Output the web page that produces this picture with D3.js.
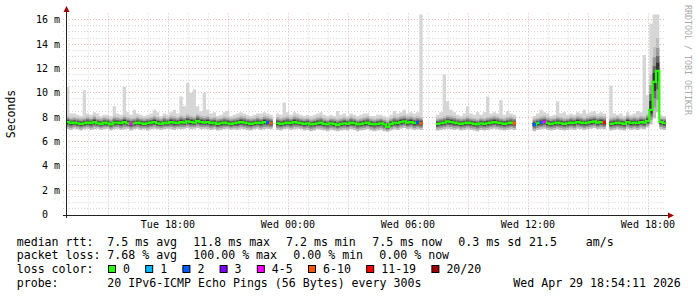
<!DOCTYPE html>
<html>
<head>
<meta charset="utf-8">
<script src="https://cdn.jsdelivr.net/npm/d3@7"></script>
<style>
body { margin: 0; background: #fff; }
text { font-family: "DejaVu Sans Mono", monospace; white-space: pre; }
</style>
</head>
<body>
<div id="chart"></div>
<script>
var w = 697;
var h = 297;

// time range of the graph, one value every 10 minutes
var startTime = new Date(2026, 3, 28, 12, 54, 11);
var endTime = new Date(2026, 3, 29, 18, 54, 11);
var stepMinutes = 10;

// median rtt (ms), null = no data
var median = [
  7.6,7.5,7.55,7.5,7.45,7.5,7.55,7.5,7.6,7.5,
  7.45,7.55,7.5,7.4,7.55,7.55,7.5,7.6,7.5,7.45,
  7.5,7.55,7.5,7.45,7.5,7.55,7.6,7.5,7.45,7.55,
  7.5,7.6,7.55,7.5,7.6,7.55,7.65,7.6,7.55,7.7,
  7.6,7.55,7.6,7.5,7.55,7.45,7.5,7.55,7.5,7.45,
  7.5,7.55,7.6,7.55,7.5,7.45,7.5,7.55,7.5,7.6,
  7.55,7.5,null,7.5,7.45,7.5,7.55,7.5,7.6,7.55,
  7.5,7.45,7.5,7.4,7.45,7.5,7.55,7.45,7.4,7.5,
  7.45,7.35,7.45,7.5,7.45,7.55,7.5,7.4,7.45,7.5,
  7.55,7.45,7.4,7.45,7.5,7.4,7.2,7.45,7.55,7.5,
  7.6,7.65,7.55,7.6,7.5,7.55,7.5,null,null,null,
  null,7.45,7.5,7.55,7.65,7.6,7.55,7.5,7.45,7.5,
  7.55,7.5,7.45,7.4,7.5,7.45,7.5,7.55,7.6,7.55,
  7.5,7.45,7.5,7.55,7.5,null,null,null,null,null,
  7.4,7.5,7.55,7.6,7.5,7.45,7.5,7.55,7.5,7.45,
  7.5,7.55,7.5,7.6,7.55,7.5,7.55,7.6,7.65,7.55,
  7.6,7.55,null,7.45,7.5,7.55,7.5,7.45,7.6,7.5,
  7.55,7.5,7.6,7.55,7.7,8.6,10.9,11.8,7.6,7.5
];

// lower edge of the smoke (fastest pings)
var smokeLo = [
  7.0,6.95,7.05,7.0,6.9,7.0,7.05,6.95,7.0,7.05,
  6.95,7.0,7.05,6.9,7.0,7.05,6.95,7.0,7.05,6.9,
  7.0,7.05,6.95,7.0,6.9,7.0,7.05,7.0,6.95,7.0,
  7.05,7.0,6.95,7.05,7.0,7.05,7.1,7.0,7.05,7.1,
  7.0,7.05,7.0,6.95,7.0,6.9,6.95,7.0,7.05,6.95,
  7.0,6.95,7.05,7.0,6.95,6.9,7.0,7.05,6.95,7.0,
  7.05,7.0,null,6.95,6.9,7.0,7.05,6.95,7.0,7.05,
  7.0,6.9,6.95,6.85,6.9,7.0,6.95,6.9,6.85,6.95,
  6.9,6.85,6.9,6.95,6.9,7.0,6.95,6.85,6.9,6.95,
  7.0,6.9,6.85,6.9,6.95,6.85,6.8,6.9,7.0,6.95,
  7.05,7.1,7.0,7.05,6.95,7.0,6.95,null,null,null,
  null,6.9,6.95,7.0,7.05,7.0,6.95,7.0,6.9,6.95,
  7.0,6.95,6.9,6.85,6.95,6.9,6.95,7.0,7.05,7.0,
  6.95,6.9,6.95,7.0,6.95,null,null,null,null,null,
  6.85,6.95,7.0,7.05,6.95,6.9,6.95,7.0,6.95,6.9,
  6.95,7.0,6.95,7.05,7.0,6.95,7.0,7.05,7.1,7.0,
  7.05,7.0,null,6.9,6.95,7.0,6.95,6.9,7.05,6.95,
  7.0,6.95,7.05,7.0,7.15,7.4,7.9,8.4,7.0,6.95
];

// upper edge of the dense smoke
var smokeHi = [
  8.1,8.0,8.05,8.0,7.95,8.0,8.1,8.0,8.15,8.0,
  7.95,8.05,8.0,7.9,8.1,8.05,8.0,8.15,8.05,7.95,
  8.0,8.1,8.0,7.95,8.0,8.05,8.15,8.05,7.95,8.1,
  8.0,8.15,8.1,8.05,8.2,8.1,8.25,8.15,8.1,8.3,
  8.15,8.1,8.15,8.0,8.05,7.95,8.0,8.1,8.05,7.95,
  8.0,8.05,8.15,8.1,8.0,7.95,8.0,8.1,8.0,8.15,
  8.1,8.0,null,8.05,7.95,8.05,8.1,8.0,8.15,8.1,
  8.0,7.95,8.0,7.9,7.95,8.05,8.1,7.95,7.9,8.0,
  7.95,7.9,7.95,8.05,7.95,8.1,8.0,7.9,7.95,8.05,
  8.1,7.95,7.9,7.95,8.0,7.9,7.8,7.95,8.1,8.05,
  8.15,8.2,8.1,8.15,8.05,8.1,8.05,null,null,null,
  null,7.95,8.0,8.1,8.2,8.15,8.1,8.0,7.95,8.0,
  8.1,8.0,7.95,7.9,8.0,7.95,8.05,8.1,8.15,8.1,
  8.0,7.95,8.05,8.1,8.0,null,null,null,null,null,
  7.95,8.0,8.1,8.15,8.05,7.95,8.0,8.1,8.05,7.95,
  8.0,8.1,8.05,8.15,8.1,8.0,8.1,8.15,8.2,8.1,
  8.15,8.1,null,8.0,8.05,8.1,8.0,7.95,8.15,8.05,
  8.1,8.05,8.15,8.1,8.3,11.5,13.8,14.5,8.0,8.0
];

// slowest ping of each interval
var pingMax = [
  10.5,8.3,8.3,8.2,8.1,10.2,8.3,8.2,8.4,8.3,
  8.1,8.2,8.2,8.1,8.9,8.3,8.2,10.5,8.4,8.2,
  8.6,8.3,8.2,8.1,8.2,8.3,8.6,8.4,8.1,8.3,
  8.2,8.4,8.6,8.3,9.7,8.9,10.8,10.0,10.3,8.9,
  8.5,10.0,8.6,8.3,8.4,8.1,8.2,8.4,8.5,8.1,
  8.2,8.3,8.4,8.3,8.2,8.1,8.2,8.3,8.3,8.4,
  8.3,8.2,null,8.3,8.2,9.2,8.4,8.2,8.4,8.3,
  8.2,8.1,8.2,8.1,8.2,8.3,8.4,8.2,8.1,8.2,
  8.1,8.5,8.2,8.3,8.1,8.3,8.2,8.1,8.2,8.3,
  8.3,8.1,8.1,8.2,8.2,8.1,8.0,8.2,8.5,8.3,
  8.4,8.6,8.3,8.4,8.3,8.4,16.5,null,null,null,
  null,8.2,8.4,11.5,9.3,8.6,8.4,8.2,8.1,8.3,
  8.9,8.3,8.2,8.4,8.2,8.4,9.7,8.3,8.4,8.3,
  9.4,8.2,8.5,8.3,8.2,null,null,null,null,null,
  8.1,8.3,8.6,8.4,8.3,8.1,8.2,9.3,8.3,8.4,
  8.2,8.3,8.2,8.4,8.3,8.6,8.3,8.4,8.5,8.3,
  8.4,8.3,null,10.6,8.3,8.2,8.3,8.1,8.4,8.2,
  8.3,8.5,8.4,13.1,9.8,15.7,16.5,16.5,8.2,8.1
];

// intervals with lost pings (index, pings lost of 20)
var lossIndex = [19, 60, 61, 105, 106, 134, 140, 142, 143, 161];
var lossPings = [4, 2, 8, 2, 8, 8, 2, 2, 4, 15];

var yTicks = [0, 2, 4, 6, 8, 10, 12, 14, 16];
var xTickLabels = ["Tue 18:00", "Wed 00:00", "Wed 06:00", "Wed 12:00", "Wed 18:00"];
var xTickTimes = [new Date(2026, 3, 28, 18), new Date(2026, 3, 29, 0), new Date(2026, 3, 29, 6),
                  new Date(2026, 3, 29, 12), new Date(2026, 3, 29, 18)];

var lossLabels = ["0", "1", "2", "3", "4-5", "6-10", "11-19", "20/20"];
var lossColors = ["#26ff00", "#00b8ff", "#0059ff", "#7e00ff", "#ff00ff", "#ff5500", "#ff0000", "#a10000"];

var rttStats = ["7.5 ms avg", "11.8 ms max", "7.2 ms min", "7.5 ms now", "0.3 ms sd", "21.5", "am/s"];
var lossStats = ["7.68 % avg", "100.00 % max", "0.00 % min", "0.00 % now"];
var probeText = "20 IPv6-ICMP Echo Pings (56 Bytes) every 300s";
var stampText = "Wed Apr 29 18:54:11 2026";

var svg = d3.select("#chart").append("svg")
  .attr("width", w)
  .attr("height", h)
  .style("background-color", "white");

var plotL = 66, plotR = 666, plotT = 14.5, plotB = 214.5;

var xScale = d3.scaleTime().domain([startTime, endTime]).range([plotL, plotR]);
var yScale = d3.scaleLinear().domain([0, 200 / 12.17]).range([plotB, plotT]);

function bucketTime(i) { return d3.timeMinute.offset(startTime, i * stepMinutes); }
function lossClass(n) {
  if (n <= 3) return n;
  if (n <= 5) return 4;
  if (n <= 10) return 5;
  if (n <= 19) return 6;
  return 7;
}

// step points: each interval gets its start and end
var pts = [];
median.forEach(function(m, i) {
  var d = { m: m, lo: smokeLo[i], hi: smokeHi[i], mx: pingMax[i] };
  pts.push(Object.assign({ t: bucketTime(i) }, d));
  pts.push(Object.assign({ t: bucketTime(i + 1) }, d));
});

// grid
var grid = svg.append("g");
d3.range(0.5, 16.5, 0.5).forEach(function(v) {
  var y = Math.floor(yScale(v)) + 0.5;
  var major = v % 2 === 0;
  grid.append("line")
    .attr("x1", plotL - 3).attr("x2", plotR).attr("y1", y).attr("y2", y)
    .attr("stroke", major ? "#eab0b0" : "#d8d8d8")
    .attr("stroke-dasharray", "1,2");
});
d3.timeHour.range(startTime, endTime).forEach(function(t) {
  var x = Math.round(xScale(t)) + 0.5;
  var major = t.getHours() % 3 === 0;
  grid.append("line")
    .attr("x1", x).attr("x2", x).attr("y1", plotT - 1).attr("y2", plotB + 3)
    .attr("stroke", major ? "#eab0b0" : "#d8d8d8")
    .attr("stroke-dasharray", "1,2");
});

// smoke
svg.append("clipPath").attr("id", "plotClip")
  .append("rect").attr("x", plotL + 1).attr("y", plotT).attr("width", plotR - plotL).attr("height", plotB - plotT);
var smoke = svg.append("g").attr("clip-path", "url(#plotClip)");

function band(f) {
  return d3.area()
    .defined(function(d) { return d.m != null; })
    .x(function(d) { return xScale(d.t); })
    .y0(function(d) { return yScale(d.m - (d.m - d.lo) * f); })
    .y1(function(d) { return yScale(d.m + (d.hi - d.m) * f); });
}

smoke.append("path")
  .attr("d", d3.area()
    .defined(function(d) { return d.m != null; })
    .x(function(d) { return xScale(d.t); })
    .y0(function(d) { return yScale(d.hi); })
    .y1(function(d) { return yScale(d.mx); })(pts))
  .attr("fill", "#d6d6d6");

[[1, "#c0c0c0"], [0.7, "#9a9a9a"], [0.45, "#6a6a6a"], [0.25, "#333333"]].forEach(function(l) {
  smoke.append("path").attr("d", band(l[0])(pts)).attr("fill", l[1]);
});

// median line
smoke.append("path")
  .attr("d", d3.line()
    .defined(function(d) { return d.m != null; })
    .x(function(d) { return xScale(d.t); })
    .y(function(d) { return yScale(d.m); })(pts))
  .attr("fill", "none")
  .attr("stroke", lossColors[0])
  .attr("stroke-width", 2.2);

lossIndex.forEach(function(i, k) {
  smoke.append("line")
    .attr("x1", xScale(bucketTime(i))).attr("x2", xScale(bucketTime(i + 1)))
    .attr("y1", yScale(median[i])).attr("y2", yScale(median[i]))
    .attr("stroke", lossColors[lossClass(lossPings[k])])
    .attr("stroke-width", 3);
});

// axes
var axisColor = "#222";
svg.append("line").attr("x1", plotL - 3).attr("x2", 670).attr("y1", 215.5).attr("y2", 215.5)
  .attr("stroke", axisColor);
svg.append("line").attr("x1", plotL + 0.5).attr("x2", plotL + 0.5).attr("y1", 218).attr("y2", 10)
  .attr("stroke", axisColor);
svg.append("path").attr("d", "M668,212.5L674,215.5L668,218.5Z").attr("fill", "#a00000");
svg.append("path").attr("d", "M63.5,12L66.5,6L69.5,12Z").attr("fill", "#a00000");

// y tick labels
svg.selectAll(".ylab").data(yTicks).enter().append("text")
  .attr("class", "ylab")
  .attr("x", function(d) { return d === 0 ? 48 : 60; })
  .attr("y", function(d) { return yScale(d) + 3.6; })
  .attr("text-anchor", "end")
  .style("font-size", "10px")
  .attr("fill", "#000")
  .text(function(d) { return d === 0 ? "0" : d + " m"; });

// x tick labels
svg.selectAll(".xlab").data(xTickTimes).enter().append("text")
  .attr("class", "xlab")
  .attr("x", function(d) { return xScale(d); })
  .attr("y", 227.5)
  .attr("text-anchor", "middle")
  .style("font-size", "10px")
  .attr("fill", "#000")
  .text(function(d, i) { return xTickLabels[i]; });

// axis title
svg.append("text")
  .attr("transform", "translate(15,114) rotate(-90)")
  .attr("text-anchor", "middle")
  .style("font-size", "11.5px")
  .attr("fill", "#000")
  .text("Seconds");

// watermark
svg.append("text")
  .attr("transform", "translate(685,5) rotate(90)")
  .style("font-size", "8.3px")
  .attr("fill", "#aaa")
  .text("RRDTOOL / TOBI OETIKER");

// legend
var fs = "11.6px";
var col0 = 16.7;
var rows = [245.7, 259.4, 273.1, 286.8];
function leg(x, y, s) {
  svg.append("text").attr("x", x).attr("y", y).style("font-size", fs).attr("fill", "#000").text(s);
}
leg(col0, rows[0], "median rtt:");
[107.3, 193.3, 286, 372.3, 458.3, 529, 585.7].forEach(function(x, i) { leg(x, rows[0], rttStats[i]); });
leg(col0, rows[1], "packet loss:");
[107.3, 193.3, 293.3, 379.3].forEach(function(x, i) { leg(x, rows[1], lossStats[i]); });
leg(col0, rows[2], "loss color:");
var bx = 108.5;
lossLabels.forEach(function(lab, i) {
  svg.append("rect").attr("x", bx).attr("y", 265.5).attr("width", 7).attr("height", 7)
    .attr("fill", lossColors[i]).attr("stroke", "#000");
  leg(bx + 14.5, rows[2], lab);
  bx += 14.5 + lab.length * 7 + 15.7;
});
leg(col0, rows[3], "probe:");
leg(107.3, rows[3], probeText);
leg(513.3, rows[3], stampText);
</script>
</body>
</html>
